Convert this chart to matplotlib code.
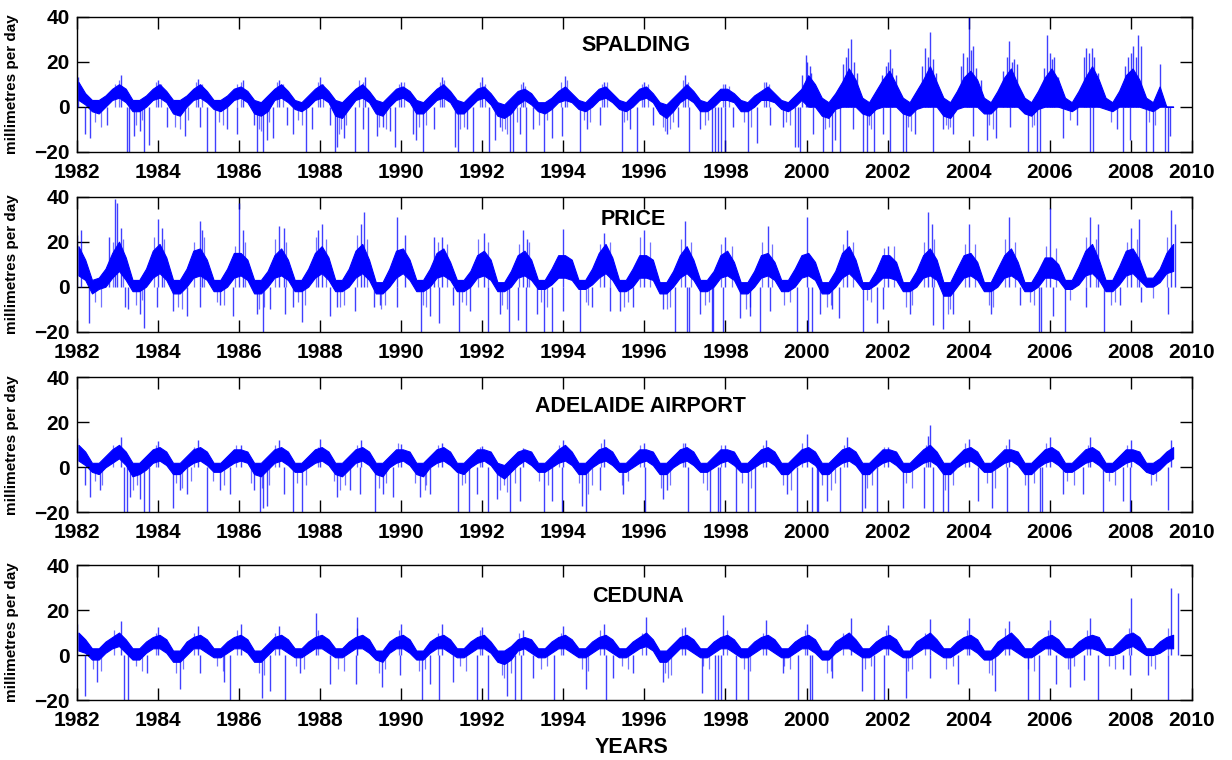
import numpy as np
import matplotlib.pyplot as plt

plt.rcParams['font.family'] = ['Liberation Sans', 'DejaVu Sans']
plt.rcParams['font.weight'] = 'bold'

# Seasonal envelope of the daily series, one row per year (1982 ...),
# sampled in Jan, Mar, May, Jul, Sep, Nov; units mm/day
sample_months = [1, 3, 5, 7, 9, 11]
first_year = 1982

spalding_hi = [
    [11, 6, 3, 3, 5, 8], [10, 8, 3, 3, 5, 8], [10, 7, 3, 3, 5, 8], [10, 7, 3, 3, 5, 8],
    [9, 7, 3, 2, 5, 8], [10, 7, 3, 2, 5, 8], [10, 7, 3, 2, 5, 8], [10, 7, 3, 2, 5, 8],
    [9, 7, 3, 2, 5, 8], [10, 7, 3, 2, 5, 8], [9, 6, 2, 1, 4, 7], [8, 6, 2, 2, 4, 7],
    [9, 6, 3, 2, 5, 8], [9, 6, 3, 2, 5, 8], [9, 6, 2, 1, 4, 7], [10, 7, 3, 2, 5, 8],
    [8, 6, 3, 2, 5, 7], [9, 6, 3, 2, 5, 8], [14, 10, 4, 2, 6, 11], [17, 12, 4, 2, 7, 12],
    [16, 10, 4, 2, 7, 12], [18, 11, 4, 2, 7, 13], [16, 12, 4, 2, 7, 13], [17, 10, 4, 2, 7, 13],
    [17, 12, 4, 2, 7, 13], [18, 12, 4, 2, 7, 14], [17, 12, 4, 2, 9, 0], [0],
]
spalding_lo = [
    [3, 1, -2, -3, 0, 3], [4, 2, -2, -2, 0, 3], [4, 2, -3, -4, 0, 3], [4, 2, -1, -2, 0, 3],
    [4, 2, -3, -4, -2, 3], [4, 2, -1, -2, 0, 3], [4, 2, -4, -5, -1, 3], [4, 2, -3, -4, 0, 3],
    [4, 2, -3, -3, 0, 3], [4, 2, -3, -3, 0, 3], [4, 1, -4, -5, -3, 1], [3, 1, -2, -3, -1, 2],
    [3, 2, -1, -2, 0, 3], [4, 2, -1, -2, 0, 3], [4, 2, -3, -5, -2, 2], [4, 2, -2, -2, 0, 3],
    [3, 2, -2, -2, 0, 3], [3, 2, -1, -2, 0, 3], [0, 0, -4, -5, -1, 0], [0, 0, -3, -4, -1, 0],
    [0, 0, -3, -4, -1, 0], [0, 0, -4, -5, -1, 0], [0, 0, -3, -3, 0, 0], [0, 0, -3, -4, -1, 0],
    [0, 0, -1, -2, 0, 0], [0, 0, -1, -2, 0, 0], [0, 0, -1, -2, 0, 0], [0],
]
spalding_dip_t = [1982.21, 1982.33, 1982.74, 1983.23, 1983.29, 1983.40, 1983.56, 1983.67,
                  1983.77, 1984.22, 1984.67, 1985.04, 1985.21, 1985.41, 1985.70, 1985.95,
                  1986.36, 1986.44, 1986.60, 1986.69, 1986.85, 1987.18, 1987.34, 1987.66,
                  1987.80, 1988.25, 1988.37, 1988.41, 1988.58, 1988.86, 1989.07, 1989.19,
                  1989.40, 1989.56, 1989.73, 1989.85, 1990.30, 1990.37, 1990.53, 1990.80,
                  1991.33, 1991.41, 1991.62, 1991.77, 1992.18, 1992.32, 1992.44, 1992.69,
                  1992.77, 1992.93, 1993.08, 1993.26, 1993.52, 1993.71, 1993.96, 1994.42,
                  1994.58, 1994.91, 1995.44, 1995.64, 1995.81, 1996.22, 1996.55, 1996.84,
                  1997.09, 1997.37, 1997.66, 1997.74, 1997.82, 1997.90, 1997.99, 1998.19,
                  1998.56, 1998.77, 1999.10, 1999.43, 1999.71, 1999.80, 1999.84, 2000.17,
                  2000.41, 2000.62, 2000.70, 2000.82, 2001.15, 2001.40, 2001.48, 2001.67,
                  2001.89, 2002.05, 2002.38, 2002.46, 2002.67, 2003.12, 2003.37, 2003.61,
                  2004.11, 2004.44, 2004.68, 2005.01, 2005.47, 2005.69, 2005.76, 2006.33,
                  2006.66, 2006.99, 2007.06, 2007.65, 2007.81, 2007.97, 2008.37, 2008.55,
                  2008.84, 2008.92, 2008.96]
spalding_dip_v = [-12, -14, -8, -20, -20, -13, -11, -20, -17, -9, -13, -9, -20, -20, -10, -12,
                  -8, -20, -20, -15, -14, -8, -12, -20, -10, -8, -20, -18, -14, -20, -10, -20,
                  -13, -9, -11, -18, -12, -15, -20, -10, -18, -20, -10, -20, -20, -15, -9, -20,
                  -20, -12, -20, -10, -20, -14, -13, -20, -10, -8, -20, -10, -20, -8, -12, -9,
                  -20, -10, -20, -20, -20, -20, -20, -9, -20, -16, -8, -9, -18, -18, -20, -12,
                  -20, -20, -15, -20, -10, -20, -20, -20, -12, -20, -20, -20, -12, -20, -10, -12,
                  -13, -15, -14, -9, -20, -20, -20, -14, -8, -20, -20, -10, -20, -15, -20, -20,
                  -20, -20, -13]
spalding_peak_t = [1982.02, 1983.10, 1984.00, 1985.00, 1986.10, 1987.00, 1988.00, 1989.10,
                   1990.00, 1991.00, 1992.00, 1993.00, 1994.05, 1995.00, 1996.00, 1997.00,
                   1998.00, 1999.00, 1999.90, 1999.98, 2000.02, 2000.08, 2000.12, 2000.90,
                   2000.97, 2001.03, 2001.10, 2001.17, 2001.25, 2001.85, 2001.95, 2002.02,
                   2002.05, 2002.12, 2002.20, 2002.85, 2002.92, 2003.00, 2003.05, 2003.12,
                   2003.20, 2003.80, 2003.87, 2003.95, 2004.00, 2004.06, 2004.10, 2004.18,
                   2004.30, 2004.85, 2004.95, 2005.00, 2005.06, 2005.12, 2005.20, 2005.85,
                   2005.94, 2006.00, 2006.06, 2006.10, 2006.20, 2006.85, 2006.90, 2006.97,
                   2007.05, 2007.10, 2007.18, 2007.85, 2007.92, 2008.00, 2008.05, 2008.12,
                   2008.18, 2008.25, 2008.73]
spalding_peak_v = [13, 14, 12, 12.5, 12, 12, 13, 13, 11, 13, 13, 11, 13.5, 11, 11, 14, 10, 11,
                   14, 23, 20, 18, 15, 19, 22, 26, 30, 20, 15, 14, 18, 20, 25.5, 17, 14, 18, 26,
                   22, 33, 21, 15, 18, 24, 22, 40, 25, 27, 17, 12, 16, 22, 29, 20, 21, 19, 17,
                   32, 24, 21, 22, 13, 22, 26, 24, 26, 22, 15, 18, 22, 24, 27, 22, 32, 27, 19]
# short, fainter excursions around the dense band
spalding_hair_t = [1982.45, 1982.6, 1983.45, 1983.6, 1984.42, 1984.55, 1984.75, 1985.5,
                   1985.6, 1986.5, 1986.55, 1986.75, 1987.45, 1987.55, 1988.47, 1988.52,
                   1988.65, 1989.45, 1989.62, 1990.45, 1990.62, 1991.45, 1991.55, 1992.5,
                   1992.56, 1992.62, 1992.85, 1993.4, 1993.6, 1994.5, 1994.65, 1995.5,
                   1995.58, 1996.45, 1996.5, 1996.62, 1996.7, 1997.5, 1997.58, 1998.45,
                   1998.62, 1999.5, 1999.6, 2000.45, 2000.55, 2001.55, 2001.6, 2002.5,
                   2002.58, 2003.45, 2003.5, 2003.55, 2004.5, 2004.6, 2005.55, 2005.62,
                   2006.5, 2007.5, 2008.45, 2008.6,
                   1982.95, 1983.05, 1983.95, 1984.08, 1984.95, 1985.1, 1985.95, 1986.05,
                   1986.95, 1987.08, 1987.95, 1988.08, 1988.95, 1989.05, 1989.95, 1990.08,
                   1990.95, 1991.05, 1991.95, 1992.08, 1992.95, 1993.05, 1993.95, 1994.1,
                   1994.95, 1995.08, 1995.95, 1996.08, 1996.95, 1997.08, 1997.95, 1998.08,
                   1998.95, 1999.08]
spalding_hair_v = [-7, -9, -8, -6, -9, -10, -6, -7, -8, -10, -11, -7, -6, -8, -12, -10,
                   -8, -9, -10, -9, -8, -10, -9, -11, -10, -12, -7, -8, -6, -6, -7, -7,
                   -6, -9, -11, -10, -7, -8, -6, -7, -9, -7, -8, -10, -9, -8, -10, -9,
                   -11, -8, -10, -9, -8, -10, -9, -8, -6, -7, -7, -8,
                   10, 12, 11, 10, 11, 10, 10, 11, 11, 10, 11, 10, 12, 11, 10, 11,
                   11, 12, 11, 10, 10, 9, 11, 12, 10, 11, 10, 10, 12, 11, 10, 9,
                   11, 10]

price_hi = [
    [18, 12, 3, 4, 8, 15], [20, 13, 3, 3, 8, 16], [19, 13, 3, 3, 8, 16], [17, 12, 3, 3, 8, 15],
    [15, 12, 3, 3, 7, 14], [17, 12, 3, 3, 8, 15], [18, 13, 3, 3, 8, 16], [19, 12, 2, 2, 8, 16],
    [17, 12, 3, 3, 8, 15], [17, 11, 3, 3, 7, 14], [16, 12, 2, 2, 7, 14], [16, 12, 3, 3, 8, 14],
    [14, 12, 3, 3, 8, 15], [19, 13, 3, 3, 8, 14], [14, 12, 2, 2, 7, 14], [18, 12, 3, 3, 7, 14],
    [16, 11, 2, 2, 7, 14], [15, 11, 3, 3, 8, 14], [15, 11, 2, 2, 7, 15], [18, 12, 2, 2, 7, 14],
    [14, 11, 2, 2, 7, 14], [17, 12, 2, 2, 8, 14], [15, 11, 2, 2, 8, 14], [17, 11, 2, 2, 7, 13],
    [13, 10, 3, 3, 9, 16], [19, 12, 3, 3, 9, 16], [17, 12, 4, 4, 8, 15], [19],
]
price_lo = [
    [5, 3, -3, -1, 0, 4], [7, 3, -2, -2, 0, 4], [6, 3, -3, -3, 0, 4], [5, 3, -2, -2, 0, 4],
    [5, 3, -3, -3, 0, 4], [5, 3, -2, -2, 0, 4], [6, 3, -2, -2, 0, 4], [6, 3, -3, -3, 0, 4],
    [6, 3, -2, -2, 0, 4], [5, 3, -2, -2, 0, 4], [5, 3, -2, -2, 0, 4], [5, 3, -1, -1, 1, 4],
    [4, 3, -1, -1, 1, 4], [6, 3, -2, -2, 0, 4], [4, 3, -3, -3, 0, 4], [6, 3, -2, -2, 0, 4],
    [5, 3, -3, -3, 0, 4], [5, 3, -2, -2, 0, 4], [5, 3, -3, -3, 0, 4], [6, 3, -1, -1, 1, 4],
    [4, 3, -2, -2, 0, 4], [5, 3, -4, -4, 0, 4], [5, 3, -2, -2, 0, 4], [5, 3, -2, -2, 0, 4],
    [4, 3, -1, -1, 1, 5], [6, 3, -2, -2, 1, 5], [6, 3, 0, 0, 2, 6], [7],
]
price_dip_t = [1982.31, 1983.19, 1983.27, 1983.56, 1983.66, 1983.97, 1984.38, 1984.71,
               1985.04, 1985.53, 1985.86, 1986.44, 1986.60, 1986.77, 1987.14, 1987.34,
               1987.55, 1988.25, 1988.41, 1988.86, 1989.32, 1989.48, 1989.89, 1990.48,
               1990.71, 1990.94, 1991.27, 1991.43, 1991.70, 1992.15, 1992.44, 1992.67,
               1992.89, 1993.08, 1993.34, 1993.52, 1993.71, 1993.99, 1994.42, 1994.70,
               1995.15, 1995.40, 1995.72, 1996.47, 1996.76, 1997.05, 1997.09, 1997.37,
               1997.66, 1997.70, 1997.95, 1998.36, 1998.61, 1998.85, 1999.10, 1999.77,
               2000.04, 2000.13, 2000.33, 2000.62, 2000.81, 2001.40, 2001.73, 2001.89,
               2002.55, 2003.12, 2003.37, 2003.61, 2004.55, 2005.26, 2005.74, 2005.79,
               2006.08, 2006.37, 2006.90, 2007.33, 2007.72, 2008.26, 2008.92]
price_dip_v = [-16, -9, -10, -12, -18.5, -9, -11, -13, -9, -8, -13, -12, -20, -10, -12, -9,
               -15.5, -13, -9, -11, -9, -8, -9, -20, -13, -16, -8, -20, -11, -20, -12, -20,
               -15, -20, -12, -20, -20, -11, -20, -9, -11, -11, -9, -10, -20, -20, -20, -12,
               -20, -20, -20, -14, -13, -20, -11, -20, -20, -20, -12, -10, -14, -20, -16, -10,
               -12, -17, -19, -12, -12, -8, -20, -20, -13, -20, -9, -20, -8, -7, -12]
price_peak_t = [1982.00, 1982.10, 1982.80, 1982.95, 1983.00, 1983.10, 1984.00, 1984.10,
                1985.05, 1985.10, 1986.00, 1986.10, 1987.00, 1987.10, 1987.95, 1988.05,
                1989.00, 1989.08, 1989.90, 1990.10, 1990.80, 1991.00, 1992.05, 1993.00,
                1993.10, 1994.00, 1995.00, 1996.00, 1997.00, 1998.00, 1999.05, 2000.00,
                2001.00, 2002.00, 2003.00, 2003.10, 2004.00, 2005.00, 2006.00, 2007.00,
                2007.20, 2008.00, 2008.20, 2009.00, 2009.10]
price_peak_v = [23, 25, 22, 39, 37, 26, 30, 26, 29, 25, 37, 25, 27, 26, 25, 28, 28, 33, 31,
                23, 22, 22, 24, 25, 21, 25.5, 24, 25, 29, 22, 27, 31, 25, 18, 33, 28, 28, 31,
                35, 31, 28, 26, 30, 34, 28]
price_hair_t = [1982.45, 1982.6, 1983.45, 1983.62, 1984.5, 1984.6, 1985.45, 1985.62,
                1986.5, 1986.62, 1987.45, 1987.62, 1988.5, 1988.6, 1989.5, 1989.6,
                1990.55, 1990.62, 1991.5, 1991.6, 1992.5, 1992.6, 1993.45, 1993.6,
                1994.55, 1994.62, 1995.5, 1995.6, 1996.55, 1996.62, 1997.5, 1997.6,
                1998.5, 1998.6, 1999.45, 1999.6, 2000.5, 2000.6, 2001.5, 2001.6,
                2002.45, 2002.6, 2003.5, 2003.55, 2004.5, 2004.6, 2005.5, 2005.6,
                2006.5, 2007.5, 2007.6, 2008.55,
                1982.9, 1983.15, 1983.9, 1984.15, 1984.9, 1985.15, 1985.9, 1986.15,
                1986.9, 1987.15, 1987.9, 1988.15, 1988.9, 1989.15, 1990.9, 1991.12,
                1991.9, 1992.15, 1992.9, 1993.15, 1994.9, 1995.15, 1995.9, 1996.15,
                1996.9, 1997.15, 1997.9, 1998.15, 1998.9, 1999.15, 2000.9, 2001.15,
                2001.9, 2002.15, 2002.9, 2003.15, 2003.9, 2004.15, 2004.9, 2005.15,
                2005.9, 2006.15, 2006.9, 2007.15, 2007.9, 2008.15, 2008.9]
price_hair_v = [-7, -9, -8, -6, -9, -10, -7, -8, -10, -9, -7, -8, -9, -8, -10, -8,
                -8, -9, -7, -8, -8, -10, -7, -9, -7, -8, -9, -7, -10, -9, -8, -7,
                -10, -9, -8, -7, -9, -8, -6, -7, -9, -8, -12, -10, -8, -9, -7, -8,
                -6, -8, -7, -5,
                20, 21, 22, 21, 20, 22, 18, 20, 21, 20, 22, 21, 23, 21, 20, 19,
                21, 20, 19, 20, 19, 20, 22, 20, 21, 20, 19, 18, 20, 19, 19, 20,
                17, 18, 20, 21, 19, 19, 21, 20, 18, 17, 22, 21, 20, 21, 22]

adelaide_hi = [
    [10, 7, 2, 2, 5, 8], [10, 7, 2, 2, 5, 8], [9, 7, 2, 2, 5, 8], [9, 7, 2, 2, 5, 8],
    [8, 7, 2, 2, 5, 8], [9, 7, 2, 2, 5, 8], [9, 7, 2, 2, 5, 8], [9, 7, 2, 2, 5, 8],
    [8, 7, 2, 2, 5, 8], [9, 7, 2, 2, 5, 8], [8, 7, 2, 1, 4, 7], [8, 7, 2, 2, 5, 8],
    [10, 7, 2, 2, 5, 8], [9, 7, 2, 2, 5, 8], [8, 7, 2, 2, 5, 8], [9, 7, 2, 2, 5, 8],
    [8, 7, 2, 2, 5, 8], [9, 7, 2, 2, 5, 8], [9, 7, 2, 2, 5, 8], [9, 7, 2, 2, 5, 8],
    [8, 7, 2, 2, 5, 8], [10, 7, 2, 2, 5, 8], [9, 7, 2, 2, 5, 8], [8, 7, 2, 2, 5, 8],
    [9, 7, 2, 2, 5, 8], [9, 7, 2, 2, 5, 8], [8, 7, 2, 2, 4, 7], [9],
]
adelaide_lo = [
    [3, 1, -2, -3, 0, 2], [4, 1, -4, -3, -1, 2], [3, 1, -3, -3, 0, 2], [3, 1, -2, -2, 0, 2],
    [3, 2, -3, -4, -1, 2], [3, 1, -2, -2, 0, 2], [3, 1, -3, -4, -1, 2], [3, 1, -3, -4, 0, 2],
    [3, 1, -3, -4, 0, 2], [3, 1, -2, -3, 0, 2], [3, 1, -3, -5, -2, 1], [3, 1, -2, -2, 0, 2],
    [3, 1, -3, -3, 0, 2], [3, 1, -2, -2, 0, 2], [3, 1, -3, -3, 0, 2], [3, 1, -2, -2, 0, 2],
    [3, 1, -2, -2, 0, 2], [3, 1, -3, -3, 0, 2], [3, 1, -3, -3, 0, 2], [3, 1, -3, -3, 0, 2],
    [3, 1, -2, -2, 0, 2], [3, 1, -3, -3, 0, 2], [3, 1, -2, -2, 0, 2], [3, 1, -3, -3, 0, 2],
    [3, 1, -2, -2, 0, 2], [3, 1, -2, -2, 0, 2], [3, 1, -2, -3, -1, 2], [4],
]
adelaide_dip_t = [1982.21, 1982.33, 1982.58, 1983.17, 1983.25, 1983.32, 1983.56, 1983.66,
                  1983.78, 1984.38, 1984.55, 1984.71, 1985.21, 1985.53, 1985.78, 1986.36,
                  1986.52, 1986.60, 1986.69, 1987.10, 1987.34, 1987.55, 1988.41, 1988.74,
                  1988.99, 1989.36, 1989.56, 1989.81, 1990.47, 1990.71, 1991.41, 1991.68,
                  1991.86, 1992.15, 1992.36, 1992.69, 1992.93, 1993.52, 1993.71, 1993.96,
                  1994.45, 1994.57, 1994.90, 1995.47, 1996.01, 1996.47, 1996.55, 1997.08,
                  1997.62, 1997.82, 1997.86, 1998.27, 1998.56, 1998.72, 1999.51, 1999.76,
                  2000.13, 2000.25, 2000.29, 2000.50, 2000.82, 2001.38, 2001.43, 2001.73,
                  2002.38, 2002.90, 2003.12, 2003.37, 2003.50, 2004.24, 2004.58, 2004.94,
                  2005.47, 2005.76, 2005.80, 2006.33, 2006.83, 2007.30, 2007.81, 2007.97,
                  2008.92]
adelaide_dip_v = [-8, -13, -10, -20, -20, -13, -14, -20, -20, -18, -10, -12, -20, -10, -12,
                  -10, -20, -18, -17, -12, -20, -20, -13, -10, -12, -20, -12, -13, -13, -12,
                  -20, -20, -12, -20, -14, -20, -15, -20, -15, -20, -17, -20, -10, -12, -20,
                  -14, -10, -20, -20, -20, -20, -20, -20, -20, -12, -20, -20, -20, -20, -15,
                  -20, -20, -18, -20, -18, -18, -20, -20, -20, -15, -18, -20, -20, -20, -20,
                  -12, -12, -20, -15, -20, -19]
adelaide_peak_t = [1982.00, 1983.10, 1984.00, 1985.00, 1986.05, 1987.00, 1988.00, 1989.00,
                   1990.00, 1991.00, 1992.00, 1993.00, 1994.00, 1995.00, 1996.00, 1997.00,
                   1998.00, 1999.00, 2000.00, 2001.00, 2002.00, 2003.00, 2003.05, 2004.00,
                   2005.00, 2006.00, 2007.00, 2008.00, 2009.00]
adelaide_peak_v = [13, 13.7, 11.6, 12, 10, 12, 12.7, 12, 10.4, 11, 9.5, 8.5, 12, 12.5, 11, 11,
                   10, 12, 15, 13.4, 9, 14, 18.7, 12.5, 12.5, 13.4, 13.4, 12, 12]
adelaide_hair_t = [1982.45, 1982.62, 1983.38, 1983.48, 1984.45, 1984.6, 1984.82, 1985.35,
                   1985.62, 1986.3, 1986.58, 1986.75, 1987.42, 1987.65, 1988.35, 1988.5,
                   1988.62, 1989.45, 1989.62, 1990.35, 1990.58, 1990.62, 1991.5, 1991.58,
                   1992.45, 1992.55, 1992.62, 1992.8, 1993.4, 1993.62, 1994.38, 1994.6,
                   1994.7, 1995.45, 1995.6, 1996.4, 1996.62, 1997.45, 1997.55, 1998.4,
                   1998.62, 1999.42, 1999.62, 2000.38, 2000.6, 2000.7, 2001.5, 2001.62,
                   2002.45, 2002.6, 2003.42, 2003.6, 2004.45, 2004.65, 2005.4, 2005.62,
                   2006.42, 2006.6, 2007.45, 2007.6, 2008.5, 2008.62,
                   1982.9, 1983.95, 1984.9, 1985.92, 1986.9, 1987.95, 1988.9, 1989.92,
                   1990.9, 1991.95, 1993.9, 1994.92, 1995.9, 1996.95, 1997.9, 1998.92,
                   1999.9, 2000.92, 2001.9, 2002.95, 2003.9, 2004.92, 2005.9, 2006.95,
                   2007.9]
adelaide_hair_v = [-6, -8, -10, -8, -7, -9, -6, -6, -8, -7, -9, -8, -7, -8, -6, -10,
                   -8, -9, -7, -7, -10, -8, -8, -7, -10, -8, -11, -7, -6, -8, -7, -12,
                   -8, -8, -6, -9, -8, -7, -10, -7, -9, -8, -10, -8, -10, -7, -9, -8,
                   -7, -9, -10, -8, -7, -9, -8, -7, -6, -8, -6, -8, -8, -6,
                   10, 10, 9, 10, 10, 9, 10, 11, 10, 9, 10, 11, 10, 11, 10, 10,
                   11, 10, 9, 10, 11, 10, 11, 10, 10]

ceduna_hi = [
    [10, 7, 3, 3, 6, 8], [10, 7, 3, 3, 6, 8], [9, 7, 2, 2, 6, 8], [9, 7, 3, 3, 6, 8],
    [9, 7, 2, 2, 5, 8], [9, 7, 3, 3, 6, 8], [9, 7, 3, 3, 6, 8], [9, 7, 2, 2, 6, 8],
    [9, 7, 2, 2, 6, 8], [9, 7, 3, 3, 6, 8], [9, 6, 2, 2, 4, 7], [8, 7, 3, 3, 6, 8],
    [9, 7, 3, 3, 6, 8], [9, 7, 3, 3, 6, 8], [10, 7, 2, 2, 5, 8], [9, 7, 3, 3, 6, 8],
    [9, 7, 3, 3, 6, 8], [9, 7, 3, 3, 6, 8], [9, 7, 2, 2, 6, 8], [10, 7, 3, 3, 6, 8],
    [9, 7, 2, 2, 6, 8], [10, 7, 3, 3, 6, 8], [9, 7, 2, 2, 6, 8], [10, 7, 3, 3, 6, 8],
    [9, 7, 3, 3, 6, 8], [9, 8, 3, 3, 6, 9], [10, 8, 3, 3, 6, 8], [9],
]
ceduna_lo = [
    [2, 1, -2, -2, 1, 3], [4, 1, -2, -2, 1, 3], [3, 1, -3, -3, 0, 3], [3, 1, -1, -1, 1, 3],
    [3, 1, -3, -3, 0, 3], [3, 1, -1, -1, 1, 3], [3, 1, -1, -1, 1, 3], [3, 1, -2, -3, 1, 3],
    [3, 1, -2, -2, 1, 3], [3, 1, -1, -1, 1, 3], [3, 1, -3, -4, -2, 2], [3, 1, -1, -1, 1, 3],
    [3, 1, -1, -1, 1, 3], [3, 1, -1, -1, 1, 3], [4, 2, -3, -3, 0, 3], [3, 1, -1, -1, 1, 3],
    [3, 1, -1, -1, 1, 3], [3, 1, -1, -1, 1, 3], [3, 1, -2, -2, 1, 3], [3, 1, -1, -1, 1, 3],
    [3, 1, -1, -1, 1, 3], [3, 1, -1, -1, 1, 3], [3, 1, -2, -2, 0, 3], [3, 1, -1, -1, 1, 3],
    [3, 1, -1, -1, 1, 3], [3, 2, 0, 0, 1, 3], [4, 2, 0, 0, 1, 3], [3],
]
ceduna_dip_t = [1982.21, 1982.49, 1983.17, 1983.27, 1983.73, 1984.55, 1985.04, 1985.62,
                1985.78, 1986.56, 1986.77, 1987.14, 1987.51, 1988.25, 1988.89, 1989.52,
                1989.97, 1990.51, 1990.71, 1990.94, 1991.29, 1991.88, 1992.15, 1992.60,
                1992.81, 1992.95, 1993.26, 1993.77, 1994.56, 1995.05, 1995.23, 1995.72,
                1996.47, 1997.41, 1997.75, 1997.82, 1997.90, 1998.27, 1998.56, 1999.43,
                1999.79, 2000.08, 2000.13, 2000.62, 2001.36, 2001.66, 2001.92, 2002.45,
                2003.04, 2003.74, 2004.64, 2005.47, 2005.73, 2006.16, 2006.49, 2006.84,
                2007.19, 2007.81, 2007.97, 2008.42, 2008.92]
ceduna_dip_v = [-18, -12, -20, -20, -8, -15, -8, -12, -20, -19, -16, -20, -8, -13, -13, -14,
                -9, -20, -13, -20, -12, -20, -20, -18, -20, -20, -10, -20, -15, -20, -10, -8,
                -12, -17, -20, -20, -20, -20, -20, -8, -20, -20, -20, -10, -16, -20, -20, -19,
                -10, -13, -16, -20, -20, -13, -14, -11, -20, -6, -9, -9, -20]
ceduna_peak_t = [1982.00, 1983.10, 1984.00, 1985.00, 1986.05, 1987.00, 1987.90, 1988.90,
                 1990.00, 1991.00, 1992.00, 1993.00, 1994.00, 1995.00, 1996.05, 1997.00,
                 1997.95, 1999.00, 2000.00, 2001.10, 2002.00, 2003.05, 2004.00, 2005.00,
                 2006.00, 2007.00, 2008.00, 2009.00, 2009.15]
ceduna_peak_v = [14, 15, 12.5, 13, 14, 13, 18.7, 17, 14, 14, 12.5, 11, 13, 14, 17, 12.5, 18,
                 15.5, 14, 16.4, 13.4, 16, 16.4, 15, 15.5, 16.4, 25.4, 30, 27.5]
ceduna_hair_t = [1982.4, 1982.6, 1983.45, 1983.62, 1984.45, 1984.62, 1985.45, 1985.6,
                 1986.5, 1986.62, 1987.4, 1987.6, 1988.45, 1988.6, 1989.45, 1989.6,
                 1990.45, 1990.6, 1991.45, 1991.6, 1992.5, 1992.55, 1992.7, 1993.45,
                 1993.6, 1994.45, 1994.62, 1995.45, 1995.6, 1996.5, 1996.58, 1996.65,
                 1997.45, 1997.6, 1998.45, 1998.6, 1999.45, 1999.6, 2000.5, 2000.6,
                 2001.45, 2001.6, 2002.5, 2002.6, 2003.45, 2003.6, 2004.5, 2004.58,
                 2005.45, 2005.6, 2006.45, 2006.6, 2007.45, 2007.6, 2008.5, 2008.6,
                 1982.92, 1983.95, 1984.9, 1985.95, 1986.9, 1987.95, 1988.92, 1989.95,
                 1990.9, 1991.95, 1992.92, 1993.95, 1994.9, 1995.95, 1996.92, 1998.05,
                 1998.92, 1999.95, 2000.9, 2001.95, 2002.92, 2003.95, 2004.9, 2005.95,
                 2006.92, 2007.95, 2008.92]
ceduna_hair_v = [-6, -7, -5, -7, -8, -6, -5, -7, -8, -9, -5, -6, -6, -7, -8, -6,
                 -7, -6, -5, -7, -9, -10, -8, -6, -5, -6, -7, -5, -6, -8, -10, -9,
                 -5, -6, -6, -7, -5, -6, -8, -7, -6, -5, -7, -6, -6, -5, -8, -9,
                 -6, -7, -6, -5, -5, -6, -5, -6,
                 11, 10, 10, 11, 10, 11, 12, 11, 10, 11, 10, 10, 11, 10, 12, 11,
                 10, 11, 10, 11, 10, 11, 12, 11, 11, 12, 12]

tick_years = list(range(1982, 2011, 2))


def sample_times(rows):
    t = []
    for i, row in enumerate(rows):
        for j in range(len(row)):
            t.append(first_year + i + (sample_months[j] - 0.5) / 12)
    return np.array(t)


def flat(rows):
    return np.array([v for row in rows for v in row], dtype=float)


panels = [
    ('SPALDING', spalding_hi, spalding_lo, spalding_dip_t, spalding_dip_v,
     spalding_peak_t, spalding_peak_v, spalding_hair_t, spalding_hair_v, 0.502, 0.79),
    ('PRICE', price_hi, price_lo, price_dip_t, price_dip_v,
     price_peak_t, price_peak_v, price_hair_t, price_hair_v, 0.499, 0.832),
    ('ADELAIDE AIRPORT', adelaide_hi, adelaide_lo, adelaide_dip_t, adelaide_dip_v,
     adelaide_peak_t, adelaide_peak_v, adelaide_hair_t, adelaide_hair_v, 0.506, 0.787),
    ('CEDUNA', ceduna_hi, ceduna_lo, ceduna_dip_t, ceduna_dip_v,
     ceduna_peak_t, ceduna_peak_v, ceduna_hair_t, ceduna_hair_v, 0.503, 0.77),
]
bottoms = [0.8004, 0.5636, 0.3259, 0.0789]

fig = plt.figure(figsize=(12.32, 7.6), dpi=100)
blue = '#0000ff'

for (name, hi, lo, dip_t, dip_v, pk_t, pk_v, hr_t, hr_v, tx, ty), b in zip(panels, bottoms):
    ax = fig.add_axes([0.0623, b, 0.905, 0.1776])
    t = sample_times(hi)
    ax.fill_between(t, flat(lo), flat(hi), color=blue, edgecolor=blue, linewidth=0.8)
    ax.vlines(hr_t, 0, hr_v, color=blue, linewidth=0.9, alpha=0.55)
    ax.vlines(dip_t, dip_v, 0, color=blue, linewidth=1.0, alpha=0.75)
    ax.vlines(pk_t, 0, pk_v, color=blue, linewidth=1.0, alpha=0.75)

    ax.set_xlim(1982, 2009.5)
    ax.set_ylim(-20, 40)
    # last label sits on the right-hand edge of the axis
    ax.set_xticks(tick_years[:-1] + [2009.5])
    ax.set_xticklabels([str(y) for y in tick_years])
    ax.set_yticks([-20, 0, 20, 40])
    ax.tick_params(direction='in', length=8.4, width=1, top=True, right=True,
                   labelsize=15)
    ax.tick_params(axis='x', pad=8)
    ax.tick_params(axis='y', pad=5)
    for lab in ax.get_xticklabels() + ax.get_yticklabels():
        lab.set_fontweight('bold')
    for s in ax.spines.values():
        s.set_linewidth(1.0)
    ax.set_ylabel('millimetres per day', fontsize=11, fontweight='bold')
    ax.yaxis.set_label_coords(-0.052, 0.5)
    ax.text(tx, ty, name, transform=ax.transAxes, ha='center', va='center',
            fontsize=15.5, fontweight='bold')

fig.text(631.7 / 1232, 1 - 747.7 / 760, 'YEARS', ha='center', va='center',
         fontsize=15.5, fontweight='bold')

fig.savefig('out.png', dpi=100)
